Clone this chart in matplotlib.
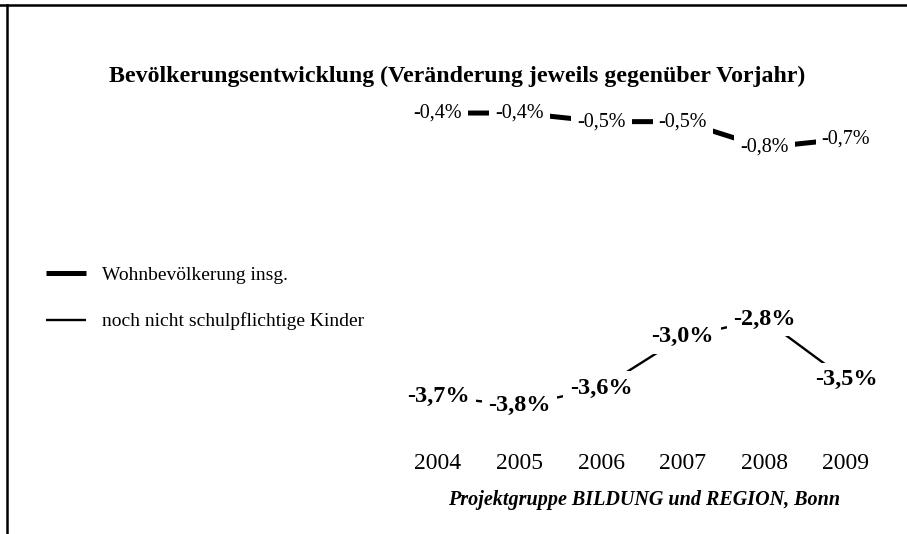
import matplotlib.pyplot as plt
from matplotlib.lines import Line2D

plt.rcParams['font.family'] = ['Liberation Serif', 'DejaVu Serif']

# data
years = [2004, 2005, 2006, 2007, 2008, 2009]
total_pop = [-0.4, -0.4, -0.5, -0.5, -0.8, -0.7]
preschool = [-3.7, -3.8, -3.6, -3.0, -2.8, -3.5]
total_labels = ["-0,4%", "-0,4%", "-0,5%", "-0,5%", "-0,8%", "-0,7%"]
preschool_labels = ["-3,7%", "-3,8%", "-3,6%", "-3,0%", "-2,8%", "-3,5%"]
series_names = ["Wohnbevölkerung insg.", "noch nicht schulpflichtige Kinder"]

W, H = 907, 534
fig = plt.figure(figsize=(W / 100, H / 100), dpi=100)

# axes placed in pixel terms
ax_l, ax_r, ax_t, ax_b = 400, 885, 66, 420
ax = fig.add_axes([ax_l / W, 1 - ax_b / H, (ax_r - ax_l) / W, (ax_b - ax_t) / H])
ax.set_xlim(2003.534, 2009.478)
ax.set_ylim(-3.97, 0.147)

l1, = ax.plot(years, total_pop, color='black', lw=3.6, solid_capstyle='butt', zorder=1)
l2, = ax.plot(years, preschool, color='black', lw=1.7, solid_capstyle='butt', zorder=1)

# value labels sit on the points, white box cuts the line
for x, y, s in zip(years, total_pop, total_labels):
    ax.text(x, y, s, ha='center', va='center', fontsize=14.5, zorder=3,
            bbox=dict(boxstyle='square,pad=0.3', fc='white', ec='none'))
for x, y, s in zip(years, preschool, preschool_labels):
    ax.text(x, y, s, ha='center', va='center', fontsize=17.5, fontweight='bold', zorder=3,
            bbox=dict(boxstyle='square,pad=0.27', fc='white', ec='none'))

ax.set_xticks(years)
ax.set_xticklabels([str(y) for y in years], fontsize=17)
ax.tick_params(axis='x', length=0, pad=24)
ax.set_yticks([])
for sp in ax.spines.values():
    sp.set_visible(False)

fig.text(457 / W, 1 - 76 / H, "Bevölkerungsentwicklung (Veränderung jeweils gegenüber Vorjahr)",
         ha='center', va='center', fontsize=17.2, fontweight='bold')
fig.text(644 / W, 1 - 500 / H, "Projektgruppe BILDUNG und REGION, Bonn",
         ha='center', va='center', fontsize=14.5, fontweight='bold', fontstyle='italic')

fig.legend([l1, l2], series_names, loc='upper left', bbox_to_anchor=(28 / W, 1 - 249 / H),
           frameon=False, fontsize=14, handlelength=2.1, handletextpad=0.8, labelspacing=1.46)

# frame (top and left edge)
fig.add_artist(Line2D([0, 1], [1 - 5 / H, 1 - 5 / H], color='black', lw=1.8))
fig.add_artist(Line2D([7 / W, 7 / W], [0, 1 - 5 / H], color='black', lw=1.8))

fig.savefig("out.png", dpi=100)
